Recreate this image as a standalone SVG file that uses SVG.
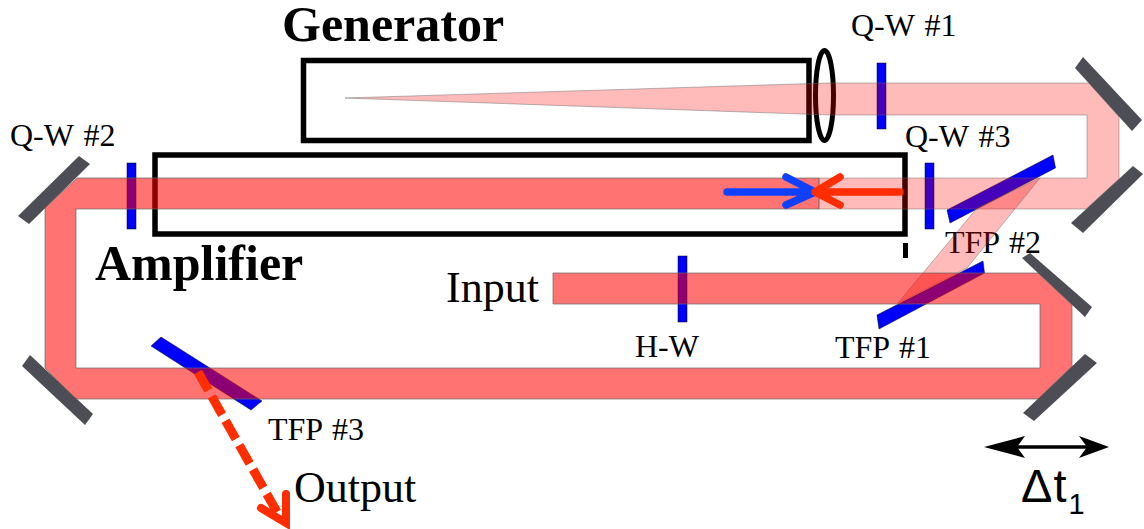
<svg xmlns="http://www.w3.org/2000/svg" width="1144" height="529" viewBox="0 0 1144 529">
<style>
.lbl{font-family:"Liberation Serif","Times New Roman",serif;font-size:32px;word-spacing:2px;fill:#000}
.big{font-family:"Liberation Serif","Times New Roman",serif;font-size:44px;fill:#000}
.bold{font-family:"Liberation Serif","Times New Roman",serif;font-size:50px;font-weight:bold;fill:#000}
.box{fill:none;stroke:#000;stroke-width:5.500}
.blue{fill:#0000ff;stroke:#000;stroke-width:.5}
.mirror{fill:#4d4d55}
.dark{fill:#ff0000;fill-opacity:.55;stroke:#666;stroke-opacity:.7;stroke-width:1}
.light{fill:#ff0000;fill-opacity:.27;stroke:#666;stroke-opacity:.45;stroke-width:1}
.ray{fill:none;stroke-width:7.500;stroke-linecap:round;stroke-linejoin:round}
</style>
<rect width="1144" height="529" fill="#fff"/>
<g id="generator"><rect class="box" x="303.500" y="60.500" width="505.500" height="80"/><text class="bold" x="282" y="41">Generator</text></g>
<g id="amplifier"><rect class="box" x="155" y="155" width="750" height="79"/><path d="M905.500 243V258" stroke="#000" stroke-width="5" fill="none"/><text class="bold" x="95" y="280">Amplifier</text></g>
<g id="lens"><ellipse cx="824.500" cy="95.500" rx="9" ry="45" fill="none" stroke="#000" stroke-width="5"/></g>
<g id="qw1"><rect class="blue" x="877" y="63" width="9" height="66"/><text class="lbl" x="851" y="36">Q-W #1</text></g>
<g id="qw2"><rect class="blue" x="127" y="163" width="9" height="66"/><text class="lbl" x="10" y="146">Q-W #2</text></g>
<g id="qw3"><rect class="blue" x="925" y="163" width="9" height="66"/><text class="lbl" x="905" y="147">Q-W #3</text></g>
<g id="hw"><rect class="blue" x="678" y="256" width="9" height="66"/><text class="lbl" x="635" y="357">H-W</text></g>
<g id="tfp1"><polygon class="blue" points="983,261 984.500,273 879,329 877,315"/><text class="lbl" x="835" y="358">TFP #1</text></g>
<g id="tfp2"><polygon class="blue" points="1053,155 1055.500,168 950,223 947,210"/><text class="lbl" x="945" y="253">TFP #2</text></g>
<g id="tfp3"><polygon class="blue" points="161,337 262,401 251,410 151,346"/><text class="lbl" x="268" y="440">TFP #3</text></g>
<g id="mirrors">
<polygon class="mirror" points="1083,57 1142,120 1132,131 1075,68"/>
<polygon class="mirror" points="1133,166 1143,174 1083,233 1071,223"/>
<polygon class="mirror" points="79,156 90,164 29,224 18,216"/>
<polygon class="mirror" points="30,355 93,414 85,425 22,366"/>
<polygon class="mirror" points="1030,253 1092,307 1085,317 1022,258"/>
<polygon class="mirror" points="1085,354 1097,363 1034,421 1023,413"/>
</g>
<g id="input"><text class="big" x="446" y="302">Input</text></g>
<g id="output"><text class="big" x="294" y="502">Output</text></g>
<g id="delay"><path d="M1010 447H1090" stroke="#000" stroke-width="3.500" fill="none"/><polygon points="984,447 1025,436 1017,447 1025,458"/><polygon points="1109,447 1079,436 1087,447 1079,458"/>
<text font-family="'Liberation Sans',Arial,sans-serif" font-size="47" x="1021" y="502">Δ<tspan dx="1">t</tspan><tspan font-size="29" dx="2" dy="12">1</tspan></text></g>
<g id="connectors">
<path class="light" d="M345 98L830 83H1089L1119 117V179L1086 209H819V178H1087V115H830Z"/>
<path class="light" d="M1040 178L977 208L898 303L967 268Z"/>
<path class="dark" d="M819 178H77L45 208V368L76 399H1038L1072 366V305L1038 273H553V304H1040V368H76V209H819Z"/>
<path class="ray" stroke="#0f40ff" d="M727 192H812M786 177L815 192L786 205"/>
<path class="ray" stroke="#ff2d00" d="M900 192H818M840 177L815 192L840 205"/>
<path d="M198 372L277 512" fill="none" stroke="#ff2d00" stroke-width="9" stroke-dasharray="21 7"/>
<path d="M261 508L286 523L286 494" fill="none" stroke="#ff2d00" stroke-width="8" stroke-linecap="round" stroke-linejoin="miter"/>
</g>
</svg>
